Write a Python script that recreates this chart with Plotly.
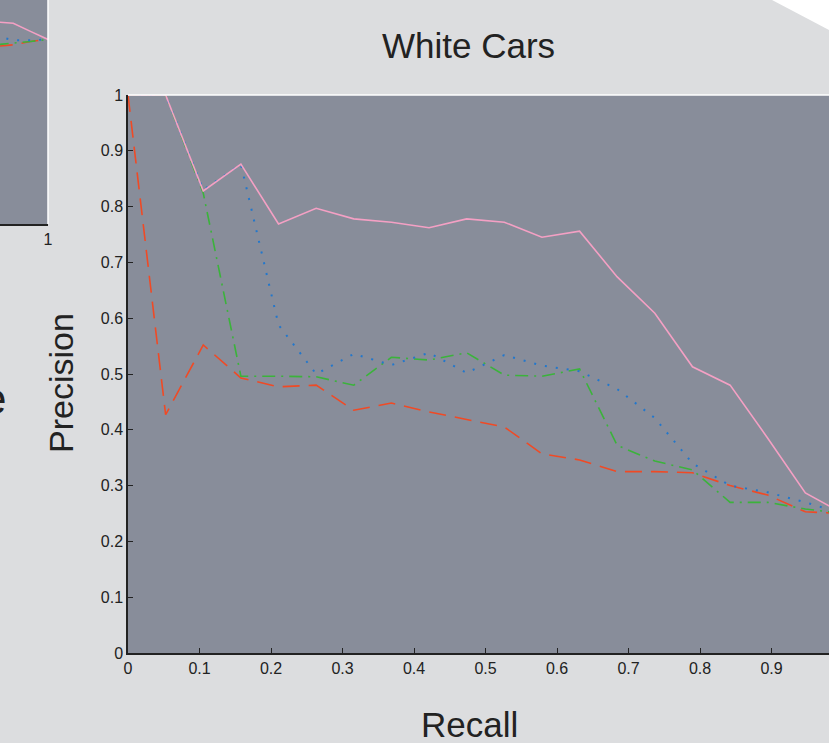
import plotly.graph_objects as go

W, H = 829, 743

recall = [i / 19 for i in range(20)]

# Main chart: "White Cars"
pink_solid = [1, 1, 0.828, 0.876, 0.769, 0.797, 0.778, 0.772, 0.762, 0.778,
              0.772, 0.745, 0.756, 0.674, 0.609, 0.513, 0.48, 0.385, 0.287, 0.25]
blue_dotted = [1, 1, 0.83, 0.876, 0.588, 0.50, 0.536, 0.516, 0.538, 0.502,
               0.534, 0.515, 0.505, 0.473, 0.421, 0.34, 0.30, 0.288, 0.27, 0.25]
green_dashdot = [1, 1, 0.824, 0.496, 0.496, 0.495, 0.48, 0.53, 0.525, 0.538,
                 0.498, 0.496, 0.509, 0.372, 0.344, 0.328, 0.27, 0.27, 0.258, 0.25]
red_dashed = [1, 0.427, 0.552, 0.493, 0.477, 0.48, 0.435, 0.448, 0.432, 0.419,
              0.405, 0.357, 0.346, 0.325, 0.325, 0.323, 0.30, 0.283, 0.253, 0.25]

# Neighbouring (cut-off) subplot at top-left: only its last points are visible
side_recall = [0.842, 0.895, 0.947, 1.0]
side_pink = [0.902, 0.896, 0.86, 0.824]
side_blue = [0.84, 0.82, 0.82, 0.824]
side_green = [0.80, 0.806, 0.815, 0.824]
side_red = [0.793, 0.80, 0.815, 0.824]

x_ticks = [0, 0.1, 0.2, 0.3, 0.4, 0.5, 0.6, 0.7, 0.8, 0.9, 1]
y_ticks = [0, 0.1, 0.2, 0.3, 0.4, 0.5, 0.6, 0.7, 0.8, 0.9, 1]
tick_text = ["0", "0.1", "0.2", "0.3", "0.4", "0.5", "0.6", "0.7", "0.8", "0.9", "1"]

PINK = "#f4a0c4"
BLUE = "#2277cc"
GREEN = "#3bb33b"
RED = "#f04a25"
BG = "#dcdddf"
PLOT_BG = "#888d9a"
FONT = "Liberation Sans, Arial, sans-serif"

fig = go.Figure()

styles = [
    (red_dashed, side_red, RED, "17px,9px", 1.6),
    (green_dashdot, side_green, GREEN, "13px,6px,2px,6px", 1.6),
    (blue_dotted, side_blue, BLUE, "2px,9px", 2.0),
    (pink_solid, side_pink, PINK, "solid", 1.6),
]
for main_y, side_y, color, dash, w in styles:
    fig.add_trace(go.Scatter(x=recall, y=main_y, mode="lines",
                             line=dict(color=color, dash=dash, width=w),
                             xaxis="x", yaxis="y", showlegend=False,
                             hoverinfo="skip"))
    fig.add_trace(go.Scatter(x=side_recall, y=side_y, mode="lines",
                             line=dict(color=color, dash=dash, width=w),
                             xaxis="x2", yaxis="y2", showlegend=False,
                             hoverinfo="skip"))

x0, x1 = 128 / W, 1.0
y0, y1 = 1 - 653 / H, 1 - 95 / H
xmax = (W - 128) / 715.0

fig.update_layout(
    width=W, height=H,
    margin=dict(l=0, r=0, t=0, b=0),
    paper_bgcolor=BG, plot_bgcolor=PLOT_BG,
    font=dict(family=FONT, color="#222222"),
    xaxis=dict(domain=[x0, x1], range=[0, xmax], tickvals=x_ticks, ticktext=tick_text,
               ticks="inside", ticklen=5, tickcolor="#222", showgrid=False, zeroline=False,
               showline=True, linecolor="#222", linewidth=1.5, tickfont=dict(size=16),
               anchor="y", automargin=False, fixedrange=True),
    yaxis=dict(domain=[y0, y1], range=[0, 1], tickvals=y_ticks, ticktext=tick_text,
               ticks="inside", ticklen=5, tickcolor="#222", showgrid=False, zeroline=False,
               showline=True, linecolor="#222", linewidth=1.5, tickfont=dict(size=16),
               anchor="x", automargin=False, fixedrange=True),
    xaxis2=dict(domain=[0, 48 / W], range=[0.855, 1.0], tickvals=[1], ticktext=["1"],
                ticks="inside", ticklen=5, tickcolor="#222", showgrid=False, zeroline=False,
                showline=True, linecolor="#222", linewidth=1.5, tickfont=dict(size=16),
                anchor="y2", automargin=False, fixedrange=True),
    yaxis2=dict(domain=[1 - 224 / H, 1], range=[0, 1.0], showticklabels=False,
                showgrid=False, zeroline=False, showline=False, anchor="x2",
                automargin=False, fixedrange=True),
    shapes=[
        dict(type="line", xref="x domain", yref="y domain", x0=0, x1=1, y0=1, y1=1,
             line=dict(color="white", width=1.5)),
        dict(type="line", xref="x2 domain", yref="y2 domain", x0=1, x1=1, y0=0, y1=1,
             line=dict(color="white", width=1.5)),
        dict(type="path", xref="paper", yref="paper",
             path=f"M {772 / W} 1 L 1 1 L 1 {1 - 30 / H} Z",
             fillcolor="white", line=dict(width=0)),
    ],
    annotations=[
        dict(text="White Cars", x=468 / W, y=1 - 45 / H, xref="paper", yref="paper",
             showarrow=False, font=dict(size=35, family=FONT, color="#222"),
             xanchor="center", yanchor="middle"),
        dict(text="Precision", x=61 / W, y=1 - 383 / H, xref="paper", yref="paper",
             showarrow=False, textangle=-90, font=dict(size=34, family=FONT, color="#222"),
             xanchor="center", yanchor="middle"),
        dict(text="Recall", x=469 / W, y=1 - 724 / H, xref="paper", yref="paper",
             showarrow=False, font=dict(size=35, family=FONT, color="#222"),
             xanchor="center", yanchor="middle"),
        dict(text="e", x=8 / W, y=1 - 398 / H, xref="paper", yref="paper",
             showarrow=False, font=dict(size=44, family=FONT, color="#222"),
             xanchor="right", yanchor="middle"),
    ],
)

fig.write_html(
    "out.html",
    config={"displayModeBar": False},
    post_script="document.body.style.margin='0';document.body.style.overflow='hidden';",
)
